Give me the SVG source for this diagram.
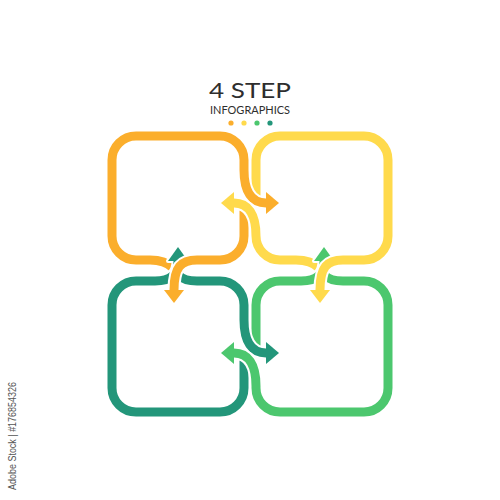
<svg xmlns="http://www.w3.org/2000/svg" width="500" height="500" viewBox="0 0 500 500">
<style>
.ln{fill:none;stroke-width:9;stroke-linecap:butt;stroke-linejoin:round}
.halo{fill:none;stroke:#fff;stroke-width:13}
.hh{fill:#fff;stroke:#fff;stroke-width:4;stroke-linejoin:round}
.o{stroke:#FBAE2C}.of{fill:#FBAE2C}
.y{stroke:#FFDA4C}.yf{fill:#FFDA4C}
.g{stroke:#23967A}.gf{fill:#23967A}
.l{stroke:#4CC76E}.lf{fill:#4CC76E}
.t{font-family:Lato,"Liberation Sans",sans-serif;fill:#2e2e2e;text-anchor:middle}
</style>
<rect width="500" height="500" fill="#fff"/>
<g id="title">
<text class="t" x="250" y="98" font-size="22" textLength="82" lengthAdjust="spacingAndGlyphs">4 STEP</text>
<text class="t" x="250" y="114" font-size="11.5" textLength="80" lengthAdjust="spacingAndGlyphs">INFOGRAPHICS</text>
<circle cx="231" cy="123" r="2.6" fill="#FBAE2C"/>
<circle cx="244" cy="123" r="2.6" fill="#FFDA4C"/>
<circle cx="257" cy="123" r="2.6" fill="#4CC76E"/>
<circle cx="270" cy="123" r="2.6" fill="#23967A"/>
</g>
<g id="step1">
<path class="ln o" d="M173,268 C167,262 160,260 150,260 L136,260 A24,24 0 0 1 112,236 L112,160 A24,24 0 0 1 136,136 L220,136 A24,24 0 0 1 244,160 L244,170 C244,192 252,203 266,203"/>
<path class="ln o" d="M244,206 L244,236 A24,24 0 0 1 220,260 L197,260 C181,260 174,267 174,290"/>
</g>
<g id="step2">
<path class="ln y" d="M256,200 L256,160 A24,24 0 0 1 280,136 L364,136 A24,24 0 0 1 388,160 L388,236 A24,24 0 0 1 364,260 L343,260 C327,260 320,267 320,290"/>
<path class="ln y" d="M319,268 C313,262 306,260 296,260 L280,260 A24,24 0 0 1 256,236 C256,214 248,203 234,203"/>
</g>
<g id="step3">
<path class="ln g" d="M177,274 C183,280 189,281 197,281 L220,281 A24,24 0 0 1 244,305 L244,320 C244,342 252,353 266,353"/>
<path class="ln g" d="M244,356 L244,388 A24,24 0 0 1 220,412 L136,412 A24,24 0 0 1 112,388 L112,305 A24,24 0 0 1 136,281 L155,281 C171,281 178,274 178,261"/>
</g>
<g id="step4">
<path class="ln l" d="M256,350 L256,305 A24,24 0 0 1 280,281 L301,281 C317,281 324,274 324,261"/>
<path class="ln l" d="M323,274 C329,280 335,281 343,281 L364,281 A24,24 0 0 1 388,305 L388,388 A24,24 0 0 1 364,412 L280,412 A24,24 0 0 1 256,388 L256,386 C256,364 248,353 234,353"/>
</g>
<g id="connectors">
<g><path class="halo" d="M244,170 C244,192 252,203 266,203"/><polygon class="hh" points="266,192 279,203 266,214"/><path class="ln o" d="M244,170 C244,192 252,203 266,203"/><polygon class="of" points="266,192 279,203 266,214"/></g>
<g><path class="halo" d="M256,236 C256,214 248,203 234,203"/><polygon class="hh" points="234,192 221,203 234,214"/><path class="ln y" d="M256,236 C256,214 248,203 234,203"/><polygon class="yf" points="234,192 221,203 234,214"/></g>
<g><path class="halo" d="M244,320 C244,342 252,353 266,353"/><polygon class="hh" points="266,342 279,353 266,364"/><path class="ln g" d="M244,320 C244,342 252,353 266,353"/><polygon class="gf" points="266,342 279,353 266,364"/></g>
<g><path class="halo" d="M256,386 C256,364 248,353 234,353"/><polygon class="hh" points="234,342 221,353 234,364"/><path class="ln l" d="M256,386 C256,364 248,353 234,353"/><polygon class="lf" points="234,342 221,353 234,364"/></g>
<g><path class="halo" d="M155,281 C171,281 178,274 178,261"/><polygon class="hh" points="168,261 178,247 188,261"/><path class="ln g" d="M155,281 C171,281 178,274 178,261"/><polygon class="gf" points="168,261 178,247 188,261"/></g>
<g><path class="halo" d="M301,281 C317,281 324,274 324,261"/><polygon class="hh" points="314,261 324,247 334,261"/><path class="ln l" d="M301,281 C317,281 324,274 324,261"/><polygon class="lf" points="314,261 324,247 334,261"/></g>
<g><path class="halo" d="M197,260 C181,260 174,267 174,290"/><polygon class="hh" points="164,290 174,303 184,290"/><path class="ln o" d="M197,260 C181,260 174,267 174,290"/><polygon class="of" points="164,290 174,303 184,290"/></g>
<g><path class="halo" d="M343,260 C327,260 320,267 320,290"/><polygon class="hh" points="310,290 320,303 330,290"/><path class="ln y" d="M343,260 C327,260 320,267 320,290"/><polygon class="yf" points="310,290 320,303 330,290"/></g>
</g>
<text x="0" y="0" transform="translate(16,436) rotate(-90)" font-family="'Liberation Sans',sans-serif" font-size="10" fill="#555" text-anchor="middle" textLength="108" lengthAdjust="spacingAndGlyphs">Adobe Stock | #176854326</text>
</svg>
